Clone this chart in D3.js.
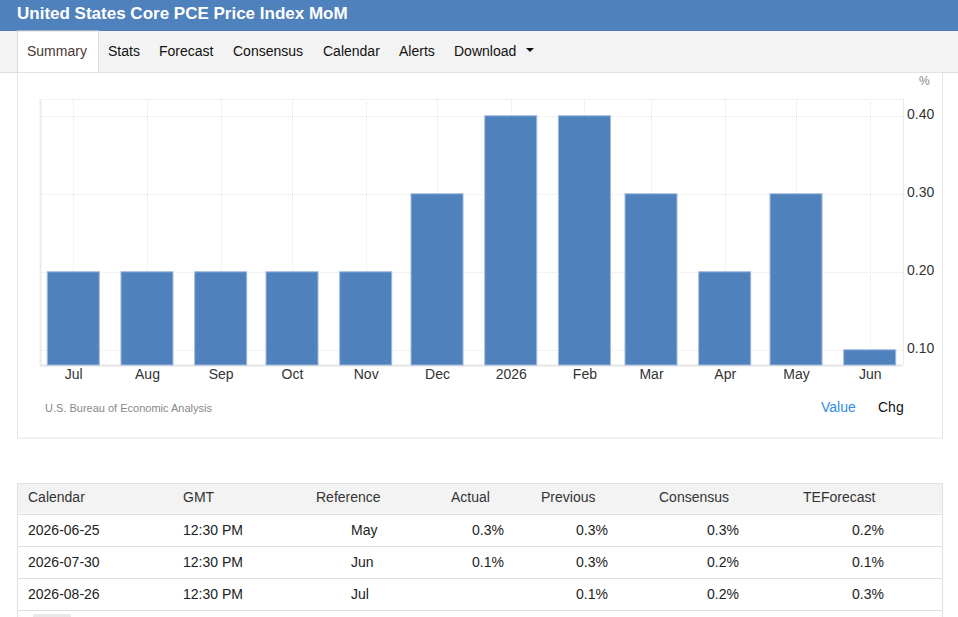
<!DOCTYPE html>
<html>
<head>
<meta charset="utf-8">
<script src="https://cdn.jsdelivr.net/npm/d3@7"></script>
<style>
  body { margin: 0; background: #fff; font-family: "Liberation Sans", Arial, sans-serif; }
  svg text { font-family: "Liberation Sans", Arial, sans-serif; }
</style>
</head>
<body>
<svg id="page" width="958" height="617"></svg>
<script>
// chart data, monthly change in %
var months = ["2025-07-01", "2025-08-01", "2025-09-01", "2025-10-01", "2025-11-01", "2025-12-01",
              "2026-01-01", "2026-02-01", "2026-03-01", "2026-04-01", "2026-05-01", "2026-06-01"];
var monthLabels = ["Jul", "Aug", "Sep", "Oct", "Nov", "Dec", "2026", "Feb", "Mar", "Apr", "May", "Jun"];
var values = [0.2, 0.2, 0.2, 0.2, 0.2, 0.3, 0.4, 0.4, 0.3, 0.2, 0.3, 0.1];
var yTicks = [0.10, 0.20, 0.30, 0.40];

var navTabs = ["Summary", "Stats", "Forecast", "Consensus", "Calendar", "Alerts", "Download"];

// calendar table
var tableHeader = ["Calendar", "GMT", "Reference", "Actual", "Previous", "Consensus", "TEForecast"];
var tableRows = [
    ["2026-06-25", "12:30 PM", "May", "0.3%", "0.3%", "0.3%", "0.2%"],
    ["2026-07-30", "12:30 PM", "Jun", "0.1%", "0.3%", "0.2%", "0.1%"],
    ["2026-08-26", "12:30 PM", "Jul", "", "0.1%", "0.2%", "0.3%"]
];

var svg = d3.select("#page");
var blue = "#4f81bd";

// ---- header bar
svg.append("rect").attr("x", 0).attr("y", 0).attr("width", 958).attr("height", 31).attr("fill", blue);
svg.append("text").attr("x", 17).attr("y", 19)
    .attr("fill", "#fff").style("font-size", "17px").style("font-weight", "bold")
    .text("United States Core PCE Price Index MoM");

// ---- nav bar
svg.append("rect").attr("x", 0).attr("y", 31).attr("width", 958).attr("height", 41).attr("fill", "#f3f3f3");
svg.append("line").attr("x1", 0).attr("x2", 958).attr("y1", 72.5).attr("y2", 72.5).attr("stroke", "#dcdcdc");
svg.append("rect").attr("x", 17.5).attr("y", 31).attr("width", 81).attr("height", 42)
    .attr("fill", "#fff").attr("stroke", "#dcdcdc");
svg.append("rect").attr("x", 18).attr("y", 71).attr("width", 80).attr("height", 3).attr("fill", "#fff");

var tabX = [27, 108, 159, 233, 323, 399, 454];
svg.selectAll(".tab").data(navTabs).enter().append("text")
    .attr("class", "tab")
    .attr("x", function (d, i) { return tabX[i]; })
    .attr("y", 56)
    .attr("fill", function (d, i) { return i === 0 ? "#4a3a32" : "#111"; })
    .style("font-size", "14px")
    .text(function (d) { return d; });
svg.append("path").attr("d", "M526,48 L534,48 L530,52 Z").attr("fill", "#111");

// ---- chart box
svg.append("rect").attr("x", 17.5).attr("y", 72.5).attr("width", 925).attr("height", 365.5)
    .attr("fill", "none").attr("stroke", "#e3e3e3");
svg.append("line").attr("x1", 17.5).attr("x2", 17.5).attr("y1", 31).attr("y2", 73).attr("stroke", "#dcdcdc");

var plot = {left: 40, right: 903, top: 99, bottom: 365};

var dates = months.map(function (m) { return d3.timeParse("%Y-%m-%d")(m); });
var x = d3.scaleTime()
    .domain([d3.timeDay.offset(dates[0], -14), d3.timeDay.offset(dates[dates.length - 1], 14)])
    .range([plot.left, plot.right]);
var y = d3.scaleLinear()
    .domain([0.0805, 0.4215])
    .range([plot.bottom, plot.top]);

var barW = 52;

// grid
var grid = svg.append("g");
grid.selectAll(".hg").data(yTicks.concat([y.invert(plot.top)])).enter().append("line")
    .attr("x1", plot.left).attr("x2", plot.right)
    .attr("y1", function (d) { return Math.round(y(d)) + 0.5; })
    .attr("y2", function (d) { return Math.round(y(d)) + 0.5; })
    .attr("stroke", "#e6e6e6").attr("stroke-dasharray", "1,1");
grid.selectAll(".vg").data(dates).enter().append("line")
    .attr("x1", function (d) { return Math.round(x(d)) + 0.5; })
    .attr("x2", function (d) { return Math.round(x(d)) + 0.5; })
    .attr("y1", plot.top).attr("y2", plot.bottom)
    .attr("stroke", "#e6e6e6").attr("stroke-dasharray", "1,1");
grid.append("line").attr("x1", plot.left + 0.5).attr("x2", plot.left + 0.5)
    .attr("y1", plot.top).attr("y2", plot.bottom).attr("stroke", "#ebebeb").attr("stroke-width", 2);
grid.append("line").attr("x1", plot.right + 0.5).attr("x2", plot.right + 0.5)
    .attr("y1", plot.top).attr("y2", plot.bottom).attr("stroke", "#ebebeb");
grid.append("line").attr("x1", plot.left).attr("x2", plot.right)
    .attr("y1", plot.bottom + 0.5).attr("y2", plot.bottom + 0.5).attr("stroke", "#e6e6e6").attr("stroke-width", 2);

// bars
svg.append("g").selectAll("rect").data(values).enter().append("rect")
    .attr("x", function (d, i) { return x(dates[i]) - barW / 2; })
    .attr("y", function (d) { return y(d); })
    .attr("width", barW)
    .attr("height", function (d) { return plot.bottom - y(d); })
    .attr("fill", blue)
    .attr("stroke", "#9fb8db").attr("stroke-width", 1);

// x axis labels
var xAxis = d3.axisBottom(x).tickValues(dates).tickSize(0).tickPadding(4)
    .tickFormat(function (d, i) { return monthLabels[i]; });
var gx = svg.append("g").attr("transform", "translate(0," + plot.bottom + ")").call(xAxis);
gx.select(".domain").remove();
gx.selectAll("text").attr("fill", "#333").style("font-size", "14px");

// y axis labels
var yAxis = d3.axisRight(y).tickValues(yTicks).tickSize(0).tickPadding(4).tickFormat(d3.format(".2f"));
var gy = svg.append("g").attr("transform", "translate(" + plot.right + ",-2)").call(yAxis);
gy.select(".domain").remove();
gy.selectAll("text").attr("fill", "#333").style("font-size", "14px");

svg.append("text").attr("x", 919).attr("y", 85).attr("fill", "#888").style("font-size", "12px").text("%");

// source + toggles
svg.append("text").attr("x", 45).attr("y", 412).attr("fill", "#888").style("font-size", "11px")
    .text("U.S. Bureau of Economic Analysis");
svg.append("text").attr("x", 821).attr("y", 412).attr("fill", "#2e8ce6").style("font-size", "14px").text("Value");
svg.append("text").attr("x", 878).attr("y", 412).attr("fill", "#111").style("font-size", "14px").text("Chg");

// ---- calendar table
var tbl = svg.append("g");
var rowY = [483, 514, 546, 578, 610];
tbl.append("rect").attr("x", 17.5).attr("y", rowY[0] + 0.5).attr("width", 925).attr("height", 30)
    .attr("fill", "#f3f3f3");
tbl.selectAll(".rl").data(rowY).enter().append("line")
    .attr("x1", 17).attr("x2", 943)
    .attr("y1", function (d) { return d + 0.5; }).attr("y2", function (d) { return d + 0.5; })
    .attr("stroke", "#e0e0e0");
tbl.append("line").attr("x1", 17.5).attr("x2", 17.5).attr("y1", 483).attr("y2", 617).attr("stroke", "#e0e0e0");
tbl.append("line").attr("x1", 942.5).attr("x2", 942.5).attr("y1", 483).attr("y2", 617).attr("stroke", "#e0e0e0");
tbl.append("rect").attr("x", 33).attr("y", 614).attr("width", 38).attr("height", 3).attr("fill", "#e8e8e8");

var headX = [28, 183, 316, 451, 541, 659, 803];
tbl.selectAll(".th").data(tableHeader).enter().append("text")
    .attr("x", function (d, i) { return headX[i]; })
    .attr("y", 502)
    .attr("fill", "#333").style("font-size", "14px")
    .text(function (d) { return d; });

var cellX = [28, 183, 351, 504, 608, 739, 884];
var cellAnchor = ["start", "start", "start", "end", "end", "end", "end"];
tableRows.forEach(function (row, r) {
    tbl.selectAll(".td" + r).data(row).enter().append("text")
        .attr("x", function (d, i) { return cellX[i]; })
        .attr("y", rowY[r + 1] + 21)
        .attr("text-anchor", function (d, i) { return cellAnchor[i]; })
        .attr("fill", "#222").style("font-size", "14px")
        .text(function (d) { return d; });
});
</script>
</body>
</html>
